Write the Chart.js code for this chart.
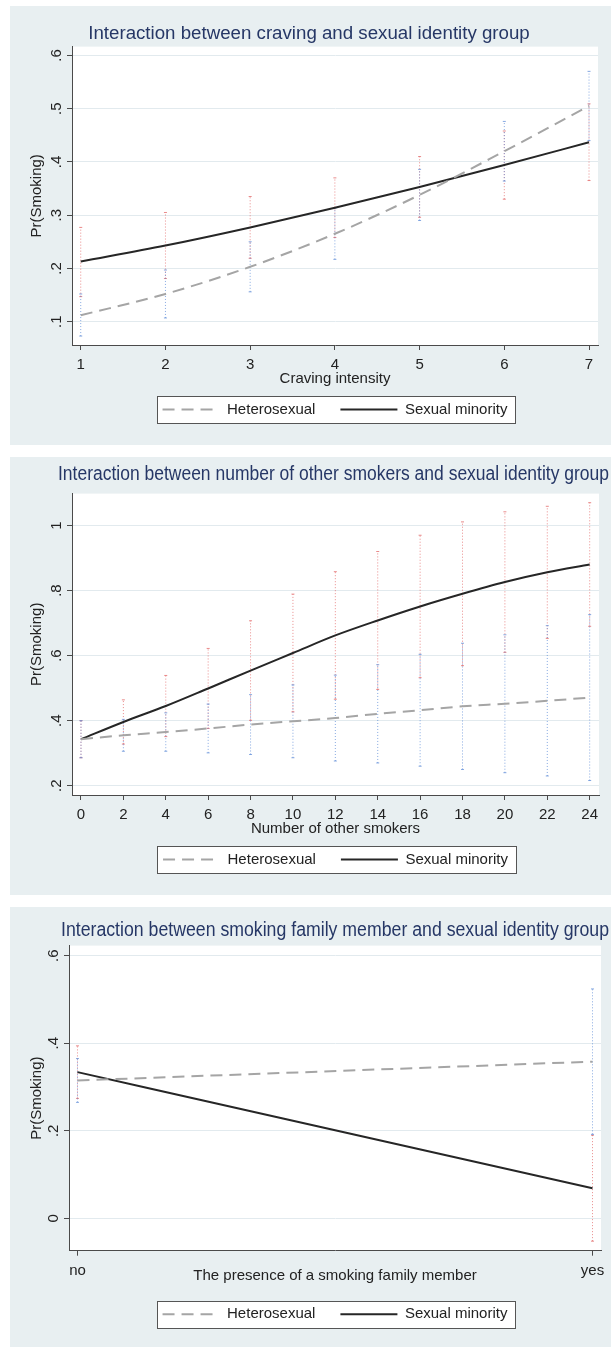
<!DOCTYPE html>
<html>
<head>
<meta charset="utf-8">
<script src="https://cdn.jsdelivr.net/npm/chart.js@4.4.1/dist/chart.umd.min.js"></script>
<style>
body { margin: 0; background: #fff; width: 616px; height: 1349px; position: relative; overflow: hidden; }
.panel { position: absolute; left: 10px; width: 601px; background: #e8eff1; }
canvas { display: block; }
</style>
</head>
<body>
<div class="panel" style="top:6px;height:439px"><canvas id="craving" width="601" height="439"></canvas></div>
<div class="panel" style="top:457px;height:438px"><canvas id="smokers" width="601" height="438"></canvas></div>
<div class="panel" style="top:907px;height:440px"><canvas id="family" width="601" height="440"></canvas></div>
<script>
// --- panel 1: craving intensity
var cravingX = [1, 2, 3, 4, 5, 6, 7];
var cravHet = [0.112, 0.152, 0.203, 0.265, 0.338, 0.420, 0.505];
var cravSM = [0.213, 0.243, 0.277, 0.314, 0.353, 0.394, 0.437];
var cravHetLo = [0.073, 0.107, 0.156, 0.217, 0.290, 0.364, 0.440];
var cravHetHi = [0.152, 0.197, 0.250, 0.313, 0.386, 0.476, 0.570];
var cravSMLo = [0.147, 0.181, 0.219, 0.258, 0.296, 0.330, 0.365];
var cravSMHi = [0.277, 0.305, 0.335, 0.370, 0.410, 0.458, 0.509];
var cravYTicks = [0.1, 0.2, 0.3, 0.4, 0.5, 0.6];

// --- panel 2: number of other smokers
var smokersX = [0, 2, 4, 6, 8, 10, 12, 14, 16, 18, 20, 22, 24];
var smkHet = [0.343, 0.355, 0.365, 0.376, 0.388, 0.398, 0.408, 0.421, 0.432, 0.444, 0.452, 0.461, 0.471];
var smkSM = [0.343, 0.396, 0.445, 0.499, 0.554, 0.608, 0.662, 0.708, 0.751, 0.790, 0.826, 0.856, 0.880];
var smkHetLo = [0.286, 0.306, 0.306, 0.301, 0.296, 0.286, 0.276, 0.270, 0.260, 0.250, 0.240, 0.230, 0.216];
var smkHetHi = [0.400, 0.404, 0.424, 0.451, 0.480, 0.510, 0.540, 0.572, 0.604, 0.638, 0.664, 0.692, 0.726];
var smkSMLo = [0.286, 0.328, 0.351, 0.376, 0.401, 0.427, 0.466, 0.496, 0.532, 0.569, 0.610, 0.653, 0.690];
var smkSMHi = [0.400, 0.464, 0.539, 0.622, 0.707, 0.789, 0.858, 0.920, 0.970, 1.011, 1.042, 1.059, 1.070];
var smkYTicks = [0.2, 0.4, 0.6, 0.8, 1];

// --- panel 3: smoking family member
var familyLabels = ['no', 'yes'];
var familyX = [0, 1];
var famHet = [0.315, 0.358];
var famSM = [0.334, 0.069];
var famHetLo = [0.265, 0.192];
var famHetHi = [0.365, 0.524];
var famSMLo = [0.274, -0.052];
var famSMHi = [0.394, 0.190];
var famYTicks = [0, 0.2, 0.4, 0.6];

Chart.defaults.font.family = "'Liberation Sans', Arial, sans-serif";
Chart.defaults.font.size = 15;
Chart.defaults.color = '#222';

var HET_COLOR = '#a5a5a5';
var SM_COLOR = '#262626';
var HET_CI = 'rgba(95,140,215,0.75)';
var SM_CI = 'rgba(225,100,100,0.75)';
var AXIS_COLOR = '#4a4a4a';
var GRID_COLOR = '#e2eaee';
var TITLE_COLOR = '#263766';

function linePoints(xs, ys) {
    return xs.map(function (x, i) { return { x: x, y: ys[i] }; });
}

// one segment per x, broken by a null point
function ciPoints(xs, lo, hi) {
    var pts = [];
    for (var i = 0; i < xs.length; i++) {
        pts.push({ x: xs[i], y: lo[i] }, { x: xs[i], y: hi[i] }, { x: xs[i], y: null });
    }
    return pts;
}

// stata style: .2 .4 ... 1
function fmtY(v) {
    if (v === 0) return '0';
    if (v === 1) return '1';
    return v.toFixed(1).replace(/^0/, '');
}

// legend samples take the dataset line style (dash, width)
function legendLabels(chart) {
    var items = Chart.defaults.plugins.legend.labels.generateLabels(chart);
    items.forEach(function (it) {
        var ds = chart.data.datasets[it.datasetIndex];
        it.lineDash = ds.borderDash || [];
        it.lineWidth = ds.borderWidth;
        it.strokeStyle = ds.borderColor;
    });
    return items;
}

// white plot region + framed legend
var panelPlugin = {
    id: 'panel',
    beforeDraw: function (chart) {
        var ctx = chart.ctx, a = chart.chartArea;
        ctx.save();
        ctx.fillStyle = '#fff';
        ctx.fillRect(a.left, a.top, a.right - a.left, a.bottom - a.top);
        var boxes = chart.legend && chart.legend.legendHitBoxes;
        if (boxes && boxes.length) {
            var first = boxes[0], last = boxes[boxes.length - 1];
            var x0 = Math.round(first.left - 6), x1 = Math.round(last.left + last.width + 8);
            var y0 = Math.round(first.top - 6), y1 = Math.round(first.top + first.height + 6);
            ctx.fillRect(x0, y0, x1 - x0, y1 - y0);
            ctx.strokeStyle = '#555';
            ctx.lineWidth = 1;
            ctx.strokeRect(x0 + 0.5, y0 + 0.5, x1 - x0, y1 - y0);
        }
        ctx.restore();
    }
};

function makePanel(id, cfg) {
    var scales = {
        x: {
            type: 'linear',
            min: cfg.xMin,
            max: cfg.xMax,
            afterBuildTicks: function (s) { s.ticks = cfg.x.map(function (v) { return { value: v }; }); },
            afterFit: function (s) { s.height = cfg.xHeight; },
            ticks: { padding: 6, color: '#222', autoSkip: false, maxRotation: 0, callback: cfg.xLabel },
            grid: { drawOnChartArea: false, tickLength: 5, tickColor: AXIS_COLOR },
            border: { color: AXIS_COLOR },
            title: { display: true, text: cfg.xTitle, color: '#222', font: { size: 15 }, padding: { top: 0, bottom: cfg.xTitlePad } }
        },
        y: {
            min: cfg.yMin,
            max: cfg.yMax,
            afterBuildTicks: function (s) { s.ticks = cfg.yTicks.map(function (v) { return { value: v }; }); },
            afterFit: function (s) { s.width = cfg.yWidth; },
            // mirror + negative padding puts the rotated labels left of the axis without clipping
            ticks: { mirror: true, minRotation: 90, maxRotation: 90, crossAlign: 'center', padding: -21.5, color: '#222', callback: fmtY },
            grid: { color: GRID_COLOR, tickLength: 5, tickColor: AXIS_COLOR },
            border: { color: AXIS_COLOR },
            title: { display: true, text: 'Pr(Smoking)', color: '#222', font: { size: 15 }, padding: { top: cfg.yTitlePad, bottom: 0 } }
        }
    };
    if (cfg.rightGap) {
        // empty right-hand spacer so the title can run past the plot region
        scales.spacer = {
            position: 'right',
            afterFit: function (s) { s.width = cfg.rightGap; },
            ticks: { display: false },
            grid: { display: false, drawTicks: false },
            border: { display: false }
        };
    }
    return new Chart(document.getElementById(id), {
        type: 'line',
        data: {
            datasets: [{
                label: 'Heterosexual',
                data: linePoints(cfg.x, cfg.het),
                borderColor: HET_COLOR,
                borderWidth: 2,
                borderDash: [12, 7],
                pointRadius: 0,
                cubicInterpolationMode: 'monotone'
            }, {
                label: 'Sexual minority',
                data: linePoints(cfg.x, cfg.sm),
                borderColor: SM_COLOR,
                borderWidth: 2,
                pointRadius: 0,
                cubicInterpolationMode: 'monotone'
            }, {
                label: 'ci het',
                data: ciPoints(cfg.x, cfg.hetLo, cfg.hetHi),
                borderColor: HET_CI,
                borderWidth: 1,
                borderDash: [1, 2],
                pointStyle: 'line',
                pointRadius: 1.5,
                pointBorderWidth: 1,
                pointBorderColor: HET_CI
            }, {
                label: 'ci sm',
                data: ciPoints(cfg.x, cfg.smLo, cfg.smHi),
                borderColor: SM_CI,
                borderWidth: 1,
                borderDash: [1, 2],
                pointStyle: 'line',
                pointRadius: 1.5,
                pointBorderWidth: 1,
                pointBorderColor: SM_CI
            }]
        },
        options: {
            responsive: false,
            animation: false,
            devicePixelRatio: 1,
            layout: { padding: { left: cfg.padLeft, top: 0, right: cfg.padRight, bottom: cfg.padBottom } },
            plugins: {
                title: {
                    display: true,
                    text: cfg.title,
                    fullSize: true,
                    color: TITLE_COLOR,
                    font: { size: cfg.titleSize, weight: 'normal' },
                    padding: { top: cfg.titleTop, bottom: cfg.titleBottom }
                },
                legend: {
                    position: 'bottom',
                    fullSize: false,
                    labels: {
                        usePointStyle: true,
                        pointStyle: 'line',
                        pointStyleWidth: 57,
                        padding: 25,
                        color: '#222',
                        font: { size: 15 },
                        generateLabels: legendLabels,
                        filter: function (item) { return item.datasetIndex < 2; }
                    }
                },
                tooltip: { enabled: false }
            },
            scales: scales
        },
        plugins: [panelPlugin]
    });
}

makePanel('craving', {
    title: 'Interaction between craving and sexual identity group', titleSize: 18.7, titleTop: 16.8, titleBottom: 1.4,
    x: cravingX, het: cravHet, sm: cravSM, hetLo: cravHetLo, hetHi: cravHetHi, smLo: cravSMLo, smHi: cravSMHi,
    xMin: 0.897, xMax: 7.106, yMin: 0.0562, yMax: 0.6164, yTicks: cravYTicks,
    xTitle: 'Craving intensity', xLabel: function (v) { return String(v); },
    padLeft: 10, padRight: 13, rightGap: 0, padBottom: 18, xHeight: 32, xTitlePad: -11, yWidth: 52, yTitlePad: 8
});

makePanel('smokers', {
    title: 'Interaction between number of other smokers and sexual identity group', titleSize: 19.5, titleTop: 5.6, titleBottom: 7.6,
    x: smokersX, het: smkHet, sm: smkSM, hetLo: smkHetLo, hetHi: smkHetHi, smLo: smkSMLo, smHi: smkSMHi,
    xMin: -0.424, xMax: 24.44, yMin: 0.1715, yMax: 1.098, yTicks: smkYTicks,
    xTitle: 'Number of other smokers', xLabel: function (v) { return String(v); },
    padLeft: 48, padRight: 2, rightGap: 10, padBottom: 18, xHeight: 32, xTitlePad: -11, yWidth: 14, yTitlePad: -30
});

makePanel('family', {
    title: 'Interaction between smoking family member and sexual identity group', titleSize: 19.5, titleTop: 12.1, titleBottom: 3.1,
    x: familyX, het: famHet, sm: famSM, hetLo: famHetLo, hetHi: famHetHi, smLo: famSMLo, smHi: famSMHi,
    xMin: -0.0165, xMax: 1.0165, yMin: -0.0738, yMax: 0.623, yTicks: famYTicks,
    xTitle: 'The presence of a smoking family member', xLabel: function (v) { return familyLabels[v]; },
    padLeft: 51, padRight: 2, rightGap: 8, padBottom: 15.3, xHeight: 31, xTitlePad: -3.3, yWidth: 8, yTitlePad: -33
});
</script>
</body>
</html>
